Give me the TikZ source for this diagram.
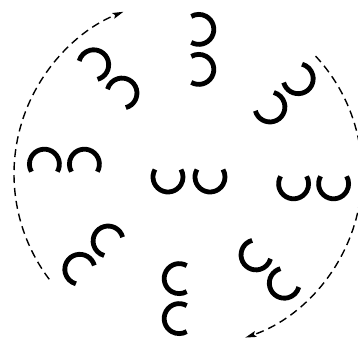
\documentclass[tikz,border=0pt]{standalone}
\usepackage{tikz}
\usetikzlibrary{arrows.meta}

\begin{document}
\begin{tikzpicture}[
    x=1pt, y=1pt,
    cup/.style={line width=4.8pt},
    track/.style={dash pattern=on 8pt off 5pt, line width=1.4pt},
    arrow/.style={-{Stealth[length=11pt, width=6pt, inset=2pt]}}
]
    \useasboundingbox (0,0) rectangle (358,340);
    \clip (0,0) rectangle (358,340);
    \coordinate (hub) at (189,166);
    \coordinate (middle) at (189,163);

    % the pair in the middle
    \begin{scope}[shift={(middle)}]
        \foreach \s in {-21,21}
            \draw[cup] (\s,0) ++(150:15) arc[start angle=150, end angle=390, radius=15];
    \end{scope}

    % the same pair, turned round the hub
    \foreach \k in {0,...,7} {
        \begin{scope}[shift={(hub)}, shift={(\k*45-4.5:125)}, rotate=\k*45]
            \foreach \s in {-20,20}
                \draw[cup] (\s,0) ++(150:15) arc[start angle=150, end angle=390, radius=15];
        \end{scope}
    }

    % dashed tracks
    \draw[track, arrow] ([shift={(217:175)}]hub) arc[start angle=217, end angle=112, radius=175];
    \draw[track, arrow] ([shift={(43:173)}]hub) arc[start angle=43, end angle=-71, radius=173];
\end{tikzpicture}
\end{document}
